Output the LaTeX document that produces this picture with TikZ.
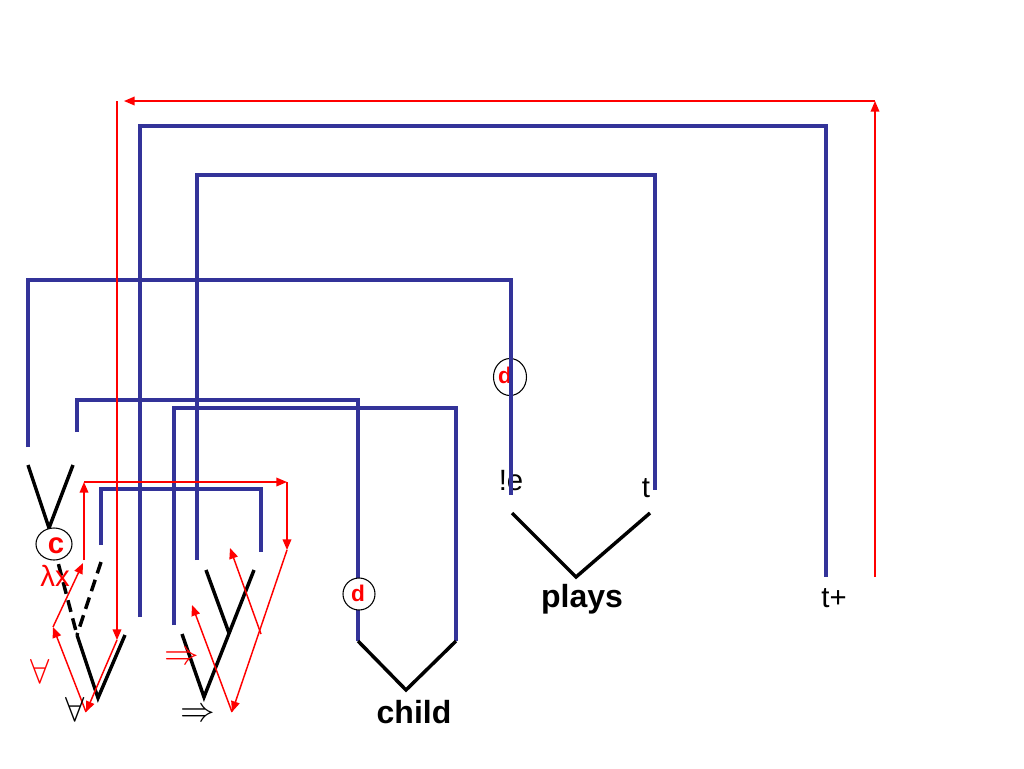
\documentclass[tikz,border=0pt]{standalone}
\usepackage{fix-cm}
\usepackage{fontspec}
\setmainfont{Liberation Sans}
\usetikzlibrary{arrows.meta,shapes.geometric}
\definecolor{netblue}{RGB}{51,51,153}
\begin{document}
\begin{tikzpicture}[x=0.75pt,y=-0.75pt,
  blueline/.style={draw=netblue,line width=2.3pt},
  blackline/.style={draw=black,line width=2.6pt},
  dashline/.style={blackline,dash pattern=on 9pt off 5pt},
  redarrow/.style={draw=red,line width=1.1pt,-{Triangle[length=8pt,width=6.5pt]}},
  ring/.style={ellipse,draw=black,line width=0.8pt,inner sep=0pt},
  dlabel/.style={text=red,font=\fontsize{17}{20}\selectfont\bfseries,inner sep=0pt},
  word/.style={font=\fontsize{22}{26}\selectfont,inner sep=0pt},
  boldword/.style={font=\fontsize{24}{28}\selectfont\bfseries,inner sep=0pt},
  sym/.style={font=\fontsize{26}{30}\selectfont,inner sep=0pt}]
\useasboundingbox (0,0) rectangle (1024,768);

% upper d ring (drawn below the blue line)
\node[ring,minimum width=24.75pt,minimum height=27.75pt] (dring1) at (510,377) {};
\node[dlabel] (dtext1) at (505,375) {d};

% words
\node[word,anchor=base] (bange) at (511,490) {!e};
\node[word,anchor=base] (tlabel) at (646,497) {t};
\node[word,anchor=base] (tplus) at (834,607) {t+};
\node[boldword,anchor=base] (plays) at (582,607) {plays};
\node[boldword,anchor=base] (child) at (414,723) {child};

% blue brackets
\coordinate (b1s) at (140,617); \coordinate (b1r) at (826,126); \coordinate (b1e) at (826,577);
\coordinate (b2s) at (197,560); \coordinate (b2r) at (655,175); \coordinate (b2e) at (655,490);
\coordinate (b3s) at (28,447);  \coordinate (b3r) at (511,280); \coordinate (b3e) at (511,495);
\coordinate (b4s) at (77,432);  \coordinate (b4r) at (358,400); \coordinate (b4e) at (358,641);
\coordinate (b5s) at (174,625); \coordinate (b5r) at (456,408); \coordinate (b5e) at (456,641);
\coordinate (b6s) at (101,545); \coordinate (b6r) at (261,489); \coordinate (b6e) at (261,552);
\draw[blueline] (b1s) |- (b1r) -- (b1e);
\draw[blueline] (b2s) |- (b2r) -- (b2e);
\draw[blueline] (b3s) |- (b3r) -- (b3e);
\draw[blueline] (b4s) |- (b4r) -- (b4e);
\draw[blueline] (b5s) |- (b5r) -- (b5e);
\draw[blueline] (b6s) |- (b6r) -- (b6e);

% black trees
\coordinate (t1a) at (28,465); \coordinate (t1v) at (49,528); \coordinate (t1b) at (73,465);
\coordinate (t1m) at (77,635); \coordinate (t1d) at (101,562);
\coordinate (t1w) at (98,698); \coordinate (t1c) at (125,635);
\draw[blackline] (t1a) -- (t1v) -- (t1b);
\draw[dashline] (t1v) -- (t1m);
\draw[dashline] (t1d) -- (t1m);
\draw[blackline] (t1m) -- (t1w) -- (t1c);

\coordinate (t2a) at (182,634); \coordinate (t2w) at (204,697); \coordinate (t2c) at (254,570);
\coordinate (t2u) at (206,570); \coordinate (t2j) at (229,633);
\draw[blackline] (t2a) -- (t2w) -- (t2c);
\draw[blackline] (t2u) -- (t2j);

\coordinate (pl) at (512,513); \coordinate (pv) at (576,577); \coordinate (pr) at (650,513);
\draw[blackline] (pl) -- (pv) -- (pr);
\draw[blackline] (b4e) -- (406,690) coordinate (cv) -- (b5e);

% red paths
\coordinate (r1) at (875,577); \coordinate (r2) at (875,101); \coordinate (r3) at (124,101);
\coordinate (r4) at (117,101); \coordinate (r5) at (117,640); \coordinate (r6) at (86,712);
\coordinate (r7) at (53,627); \coordinate (r8) at (83,563); \coordinate (r9) at (84,560);
\coordinate (r10) at (84,482); \coordinate (r11) at (287,482); \coordinate (r12) at (287,550);
\coordinate (r13) at (232,712); \coordinate (r14) at (192,605);
\coordinate (r15) at (261,634); \coordinate (r16) at (230,548);
\draw[redarrow] (r1) -- (r2);
\draw[redarrow] (r2) -- (r3);
\draw[redarrow] (r4) -- (r5);
\draw[redarrow] (r5) -- (r6);
\draw[redarrow] (r6) -- (r7);
\draw[redarrow] (r7) -- (r8);
\draw[redarrow] (r9) -- (r10);
\draw[redarrow] (r10) -- (r11);
\draw[redarrow] (r11) -- (r12);
\draw[redarrow] (r12) -- (r13);
\draw[redarrow] (r13) -- (r14);
\draw[redarrow] (r15) -- (r16);

% rings on top
\node[ring,fill=white,minimum width=27pt,minimum height=24pt] (cring) at (54,544) {};
\node[text=red,font=\fontsize{22}{26}\selectfont\bfseries,inner sep=0pt] (ctext) at (56,546) {c};
\node[ring,fill=white,minimum width=24pt,minimum height=24pt] (dring2) at (359,594) {};
\node[dlabel] (dtext2) at (358,593) {d};

% symbols
\node[text=red,anchor=base,inner sep=0pt,font=\fontsize{22}{26}\selectfont] (lamx) at (55,586) {λx};
\node[sym,text=red] (redforall) at (40,671) {$\forall$};
\node[sym] (blackforall) at (75,709) {$\forall$};
\node[sym,text=red] (redimp) at (182,658) {$\Rightarrow$};
\node[sym] (blackimp) at (198,715) {$\Rightarrow$};
\end{tikzpicture}
\end{document}
